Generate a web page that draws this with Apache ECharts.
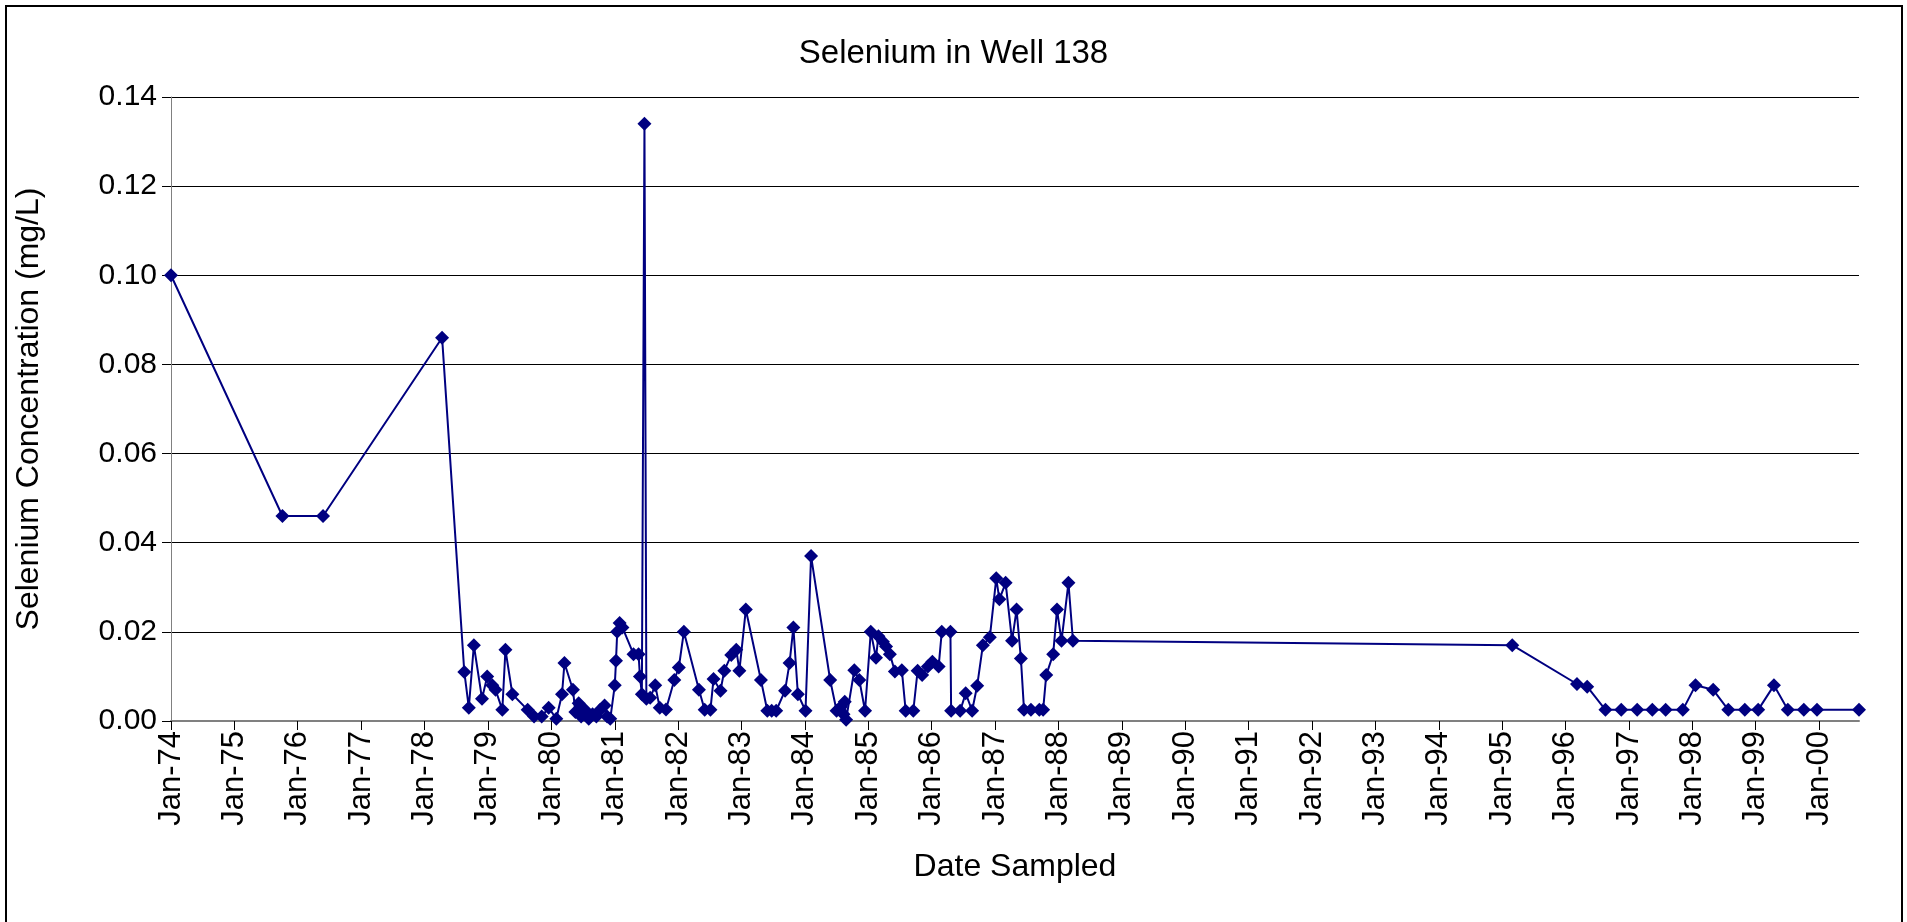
<!DOCTYPE html>
<html>
<head>
<meta charset="utf-8">
<title>Selenium in Well 138</title>
<script src="https://cdn.jsdelivr.net/npm/echarts@6/dist/echarts.min.js"></script>
<style>
  html, body { margin: 0; padding: 0; background: #fff; }
  #chart { width: 1907px; height: 922px; }
</style>
</head>
<body>
<div id="chart"></div>
<script>
// sample dates and selenium concentrations (mg/L)
const sampleDates = [
  '1974-01-01', '1975-10-05', '1976-05-26', '1978-04-12', '1978-08-18', '1978-09-13',
  '1978-10-12', '1978-11-28', '1978-12-28', '1979-01-26', '1979-02-14', '1979-03-25',
  '1979-04-12', '1979-05-22', '1979-08-18', '1979-09-24', '1979-11-07', '1979-12-17',
  '1980-01-30', '1980-03-03', '1980-03-17', '1980-05-05', '1980-05-19', '1980-06-07',
  '1980-06-21', '1980-07-13', '1980-08-04', '1980-08-26', '1980-09-17', '1980-10-09',
  '1980-11-03', '1980-11-18', '1980-12-06', '1981-01-01', '1981-01-08', '1981-01-15',
  '1981-01-29', '1981-02-14', '1981-04-19', '1981-05-18', '1981-05-26', '1981-06-06',
  '1981-06-21', '1981-07-02', '1981-07-24', '1981-08-22', '1981-09-17', '1981-10-23',
  '1981-12-10', '1982-01-05', '1982-02-03', '1982-05-01', '1982-06-03', '1982-07-06',
  '1982-07-24', '1982-09-02', '1982-09-24', '1982-11-03', '1982-12-02', '1982-12-20',
  '1983-01-26', '1983-04-23', '1983-05-30', '1983-06-24', '1983-07-20', '1983-09-09',
  '1983-10-05', '1983-10-27', '1983-11-22', '1984-01-05', '1984-02-06', '1984-05-26',
  '1984-07-02', '1984-07-27', '1984-08-11', '1984-08-18', '1984-08-26', '1984-10-12',
  '1984-11-10', '1984-12-13', '1985-01-15', '1985-02-14', '1985-02-28', '1985-03-26',
  '1985-04-13', '1985-05-05', '1985-06-03', '1985-07-13', '1985-08-04', '1985-09-17',
  '1985-10-12', '1985-11-07', '1985-12-10', '1986-01-05', '1986-02-10', '1986-02-28',
  '1986-04-19', '1986-04-23', '1986-06-14', '1986-07-16', '1986-08-22', '1986-09-20',
  '1986-10-23', '1986-12-02', '1987-01-08', '1987-01-26', '1987-03-03', '1987-04-09',
  '1987-05-05', '1987-05-30', '1987-06-17', '1987-07-27', '1987-09-13', '1987-10-05',
  '1987-10-23', '1987-12-02', '1987-12-24', '1988-01-19', '1988-02-28', '1988-03-25',
  '1995-02-28', '1996-03-07', '1996-05-05', '1996-08-18', '1996-11-17', '1997-02-17',
  '1997-05-15', '1997-07-31', '1997-11-07', '1998-01-19', '1998-05-01', '1998-07-27',
  '1998-10-30', '1999-01-15', '1999-04-16', '1999-07-05', '1999-10-05', '1999-12-20',
  '2000-08-18'
];
const seleniumMgL = [
  0.100, 0.046, 0.046, 0.086, 0.011, 0.003,
  0.017, 0.005, 0.010, 0.008, 0.007, 0.0025,
  0.016, 0.006, 0.0025, 0.001, 0.001, 0.003,
  0.0005, 0.006, 0.013, 0.007, 0.002, 0.004,
  0.001, 0.0025, 0.0005, 0.0015, 0.001, 0.0025,
  0.0035, 0.001, 0.0005, 0.008, 0.0135, 0.020,
  0.022, 0.021, 0.015, 0.015, 0.010, 0.006,
  0.134, 0.005, 0.0052, 0.008, 0.003, 0.0026,
  0.0092, 0.012, 0.020, 0.007, 0.0025, 0.0025,
  0.0094, 0.0068, 0.0113, 0.0148, 0.016, 0.0113,
  0.025, 0.0092, 0.0023, 0.0023, 0.0023, 0.0068,
  0.013, 0.021, 0.006, 0.0023, 0.037, 0.0092,
  0.0023, 0.0032, 0.0015, 0.0043, 0.0003, 0.0114,
  0.0092, 0.0023, 0.020, 0.0142, 0.019, 0.0178,
  0.0167, 0.015, 0.0111, 0.0114, 0.0023, 0.0023,
  0.0113, 0.0103, 0.0122, 0.0133, 0.0122, 0.020,
  0.020, 0.0023, 0.0023, 0.0062, 0.0023, 0.0079,
  0.017, 0.0188, 0.032, 0.0273, 0.031, 0.018,
  0.025, 0.014, 0.0025, 0.0025, 0.0025, 0.0025,
  0.0103, 0.015, 0.025, 0.018, 0.031, 0.018,
  0.017, 0.0083, 0.0077, 0.0025, 0.0025, 0.0025,
  0.0025, 0.0025, 0.0025, 0.008, 0.007, 0.0025,
  0.0025, 0.0025, 0.008, 0.0025, 0.0025, 0.0025,
  0.0025
];
const axisStart = '1974-01-01';
const axisEnd = '2000-08-18';
const yTicks = [0, 0.02, 0.04, 0.06, 0.08, 0.10, 0.12, 0.14];

const font = 'Liberation Sans, Arial, sans-serif';
const year = 365 * 24 * 3600 * 1000;

let chart = echarts.init(document.getElementById('chart'));

let option = {
  animation: false,
  backgroundColor: '#fff',
  title: {
    text: 'Selenium in Well 138',
    left: 'center',
    top: 32,
    textStyle: { fontFamily: font, fontSize: 33, fontWeight: 'normal', color: '#000' }
  },
  grid: { left: 171, top: 97, width: 1688, height: 624 },
  graphic: [{
    type: 'rect',
    shape: { x: 6, y: 6, width: 1896, height: 1000 },
    style: { fill: null, stroke: '#000', lineWidth: 2 },
    silent: true
  }],
  xAxis: {
    type: 'time',
    min: axisStart,
    max: axisEnd,
    minInterval: year,
    maxInterval: year + 2 * 24 * 3600 * 1000,
    name: 'Date Sampled',
    nameLocation: 'middle',
    nameGap: 130,
    nameTextStyle: { fontFamily: font, fontSize: 32, color: '#000', verticalAlign: 'top' },
    axisLine: { lineStyle: { color: '#808080', width: 2 } },
    axisTick: { show: true, length: 9, lineStyle: { color: '#000' } },
    splitLine: { show: false },
    axisLabel: {
      rotate: 90,
      margin: 10,
      fontFamily: font,
      fontSize: 31,
      color: '#000',
      showMinLabel: true,
      showMaxLabel: false,
      formatter: function (value) {
        let d = new Date(value);
        return 'Jan-' + String(d.getFullYear()).slice(2);
      }
    }
  },
  yAxis: {
    type: 'value',
    min: yTicks[0],
    max: yTicks[yTicks.length - 1],
    interval: 0.02,
    name: 'Selenium Concentration (mg/L)',
    nameLocation: 'middle',
    nameGap: 126,
    nameTextStyle: { fontFamily: font, fontSize: 32, color: '#000' },
    axisLine: { show: true, lineStyle: { color: '#808080', width: 1 } },
    axisTick: { show: true, length: 9, lineStyle: { color: '#000' } },
    splitLine: { show: true, lineStyle: { color: '#000', width: 1 } },
    axisLabel: {
      margin: 14,
      fontFamily: font,
      fontSize: 30,
      color: '#000',
      formatter: function (v) { return v.toFixed(2); }
    }
  },
  series: [{
    type: 'line',
    data: sampleDates.map((d, i) => [d, seleniumMgL[i]]),
    symbol: 'diamond',
    symbolSize: 14,
    showAllSymbol: true,
    itemStyle: { color: '#000080' },
    lineStyle: { color: '#000080', width: 2 },
    z: 5
  }]
};

chart.setOption(option);
</script>
</body>
</html>
